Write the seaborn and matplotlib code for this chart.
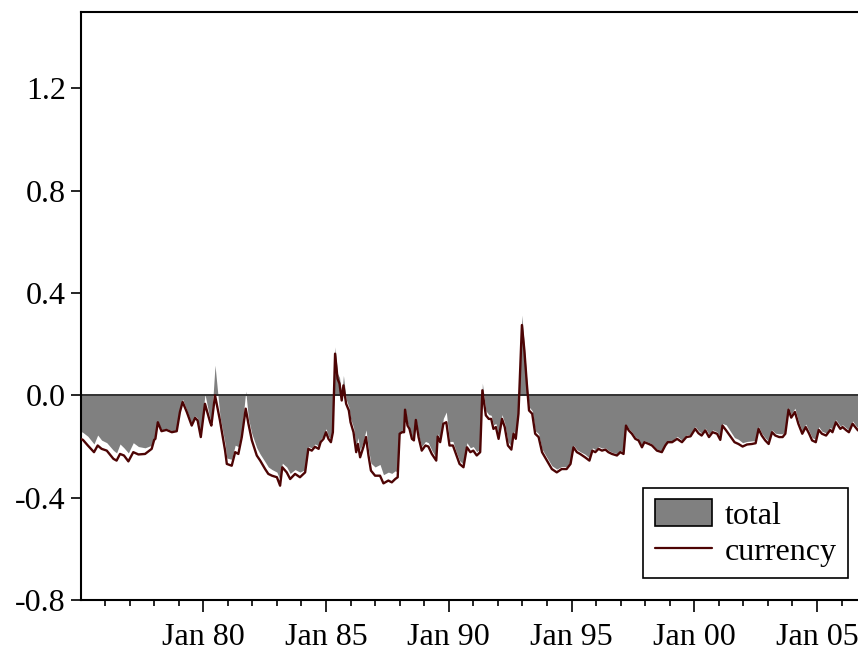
import numpy as np
import pandas as pd
import matplotlib
matplotlib.use("Agg")
import matplotlib.pyplot as plt
from matplotlib.patches import Patch
from matplotlib.lines import Line2D
import seaborn as sns

# ---- data (decimal years) ----
year = [
    1975.0, 1975.1, 1975.3, 1975.55, 1975.7, 1975.86, 1976.07, 1976.34, 1976.47, 1976.61,
    1976.77, 1976.95, 1977.15, 1977.36, 1977.63, 1977.9, 1978.0, 1978.05, 1978.15, 1978.3,
    1978.5, 1978.72, 1978.92, 1979.05, 1979.16, 1979.33, 1979.53, 1979.67, 1979.77, 1979.9,
    1980.07, 1980.28, 1980.33, 1980.48, 1980.68, 1980.89, 1980.96, 1981.16, 1981.3, 1981.43,
    1981.57, 1981.73, 1981.84, 1981.98, 1982.18, 1982.32, 1982.52, 1982.65, 1982.8, 1983.0,
    1983.13, 1983.22, 1983.4, 1983.54, 1983.74, 1983.94, 1984.15, 1984.28, 1984.42, 1984.55,
    1984.7, 1984.78, 1984.9, 1985.0, 1985.1, 1985.2, 1985.28, 1985.37, 1985.47, 1985.55,
    1985.64, 1985.71, 1985.82, 1985.93, 1986.0, 1986.12, 1986.23, 1986.3, 1986.39, 1986.52,
    1986.63, 1986.73, 1986.83, 1987.0, 1987.2, 1987.34, 1987.54, 1987.68, 1987.82, 1987.92,
    1988.0, 1988.1, 1988.18, 1988.22, 1988.32, 1988.4, 1988.5, 1988.58, 1988.66, 1988.77,
    1988.9, 1989.05, 1989.17, 1989.31, 1989.49, 1989.55, 1989.65, 1989.78, 1989.9, 1990.03,
    1990.17, 1990.3, 1990.44, 1990.6, 1990.74, 1990.88, 1991.0, 1991.14, 1991.28, 1991.37,
    1991.51, 1991.63, 1991.73, 1991.82, 1991.92, 1992.03, 1992.17, 1992.28, 1992.41, 1992.55,
    1992.64, 1992.73, 1992.84, 1992.98, 1993.08, 1993.18, 1993.27, 1993.4, 1993.52, 1993.66,
    1993.8, 1994.0, 1994.2, 1994.4, 1994.6, 1994.8, 1994.96, 1995.08, 1995.22, 1995.35,
    1995.55, 1995.73, 1995.85, 1995.97, 1996.1, 1996.24, 1996.38, 1996.5, 1996.65, 1996.85,
    1996.99, 1997.12, 1997.22, 1997.33, 1997.46, 1997.6, 1997.73, 1997.87, 1997.97, 1998.15,
    1998.28, 1998.48, 1998.68, 1998.82, 1998.92, 1999.1, 1999.3, 1999.5, 1999.68, 1999.85,
    2000.04, 2000.17, 2000.3, 2000.45, 2000.6, 2000.75, 2000.93, 2001.06, 2001.15, 2001.3,
    2001.47, 2001.64, 2001.8, 2001.97, 2002.15, 2002.35, 2002.5, 2002.62, 2002.75, 2002.89,
    2003.03, 2003.17, 2003.3, 2003.46, 2003.6, 2003.71, 2003.84, 2003.95, 2004.1, 2004.24,
    2004.4, 2004.54, 2004.68, 2004.8, 2004.95, 2005.07, 2005.2, 2005.37, 2005.54, 2005.63,
    2005.77, 2005.95, 2006.04, 2006.2, 2006.3, 2006.45, 2006.56, 2006.67,
]

currency = [
    -0.170, -0.174, -0.196, -0.222, -0.196, -0.209, -0.216, -0.248, -0.255, -0.229,
    -0.235, -0.258, -0.222, -0.231, -0.229, -0.209, -0.174, -0.170, -0.105, -0.140,
    -0.135, -0.144, -0.140, -0.065, -0.026, -0.065, -0.118, -0.088, -0.098, -0.163,
    -0.033, -0.105, -0.118, 0.000, -0.098, -0.216, -0.268, -0.275, -0.222, -0.229,
    -0.163, -0.052, -0.111, -0.176, -0.235, -0.255, -0.288, -0.307, -0.314, -0.320,
    -0.353, -0.281, -0.301, -0.327, -0.307, -0.320, -0.301, -0.209, -0.216, -0.201,
    -0.209, -0.183, -0.170, -0.144, -0.170, -0.183, -0.144, 0.163, 0.065, 0.046,
    -0.020, 0.039, -0.033, -0.059, -0.105, -0.144, -0.222, -0.190, -0.242, -0.203,
    -0.163, -0.235, -0.294, -0.314, -0.314, -0.344, -0.333, -0.340, -0.327, -0.320,
    -0.150, -0.144, -0.144, -0.056, -0.118, -0.131, -0.170, -0.176, -0.096, -0.163,
    -0.216, -0.196, -0.200, -0.229, -0.255, -0.161, -0.183, -0.111, -0.105, -0.196,
    -0.196, -0.231, -0.268, -0.281, -0.203, -0.222, -0.216, -0.235, -0.222, 0.020,
    -0.078, -0.092, -0.092, -0.131, -0.124, -0.170, -0.092, -0.124, -0.196, -0.212,
    -0.150, -0.170, -0.072, 0.275, 0.176, 0.046, -0.059, -0.072, -0.150, -0.163,
    -0.222, -0.255, -0.288, -0.301, -0.288, -0.288, -0.268, -0.203, -0.222, -0.229,
    -0.242, -0.255, -0.216, -0.222, -0.209, -0.216, -0.212, -0.222, -0.229, -0.235,
    -0.222, -0.229, -0.118, -0.137, -0.150, -0.170, -0.176, -0.203, -0.183, -0.190,
    -0.196, -0.216, -0.222, -0.196, -0.183, -0.183, -0.170, -0.183, -0.163, -0.160,
    -0.131, -0.148, -0.157, -0.137, -0.163, -0.144, -0.150, -0.174, -0.118, -0.137,
    -0.160, -0.183, -0.190, -0.200, -0.192, -0.190, -0.187, -0.131, -0.157, -0.176,
    -0.190, -0.144, -0.157, -0.163, -0.163, -0.150, -0.056, -0.087, -0.065, -0.111,
    -0.150, -0.124, -0.150, -0.176, -0.183, -0.135, -0.150, -0.157, -0.135, -0.144,
    -0.105, -0.131, -0.124, -0.137, -0.144, -0.111, -0.124, -0.137,
]

total = [
    -0.140, -0.145, -0.160, -0.190, -0.155, -0.175, -0.185, -0.215, -0.225, -0.190,
    -0.205, -0.225, -0.185, -0.200, -0.205, -0.195, -0.165, -0.160, -0.100, -0.135,
    -0.130, -0.138, -0.135, -0.060, -0.015, -0.058, -0.112, -0.080, -0.090, -0.150,
    0.005, -0.095, -0.105, 0.118, -0.080, -0.190, -0.245, -0.250, -0.195, -0.200,
    -0.140, 0.017, -0.090, -0.150, -0.205, -0.230, -0.260, -0.280, -0.290, -0.300,
    -0.330, -0.265, -0.280, -0.305, -0.290, -0.300, -0.290, -0.200, -0.205, -0.190,
    -0.198, -0.170, -0.160, -0.130, -0.160, -0.172, -0.135, 0.190, 0.085, 0.070,
    0.000, 0.078, -0.015, -0.045, -0.090, -0.125, -0.200, -0.165, -0.215, -0.180,
    -0.135, -0.210, -0.265, -0.280, -0.270, -0.310, -0.300, -0.305, -0.295, -0.300,
    -0.145, -0.140, -0.140, -0.052, -0.110, -0.125, -0.163, -0.170, -0.090, -0.155,
    -0.200, -0.180, -0.185, -0.215, -0.245, -0.150, -0.170, -0.090, -0.065, -0.180,
    -0.180, -0.220, -0.255, -0.270, -0.185, -0.205, -0.200, -0.220, -0.210, 0.048,
    -0.060, -0.075, -0.078, -0.115, -0.110, -0.155, -0.075, -0.110, -0.180, -0.200,
    -0.140, -0.160, -0.060, 0.314, 0.190, 0.060, -0.045, -0.060, -0.138, -0.150,
    -0.210, -0.243, -0.275, -0.288, -0.278, -0.278, -0.258, -0.195, -0.212, -0.220,
    -0.230, -0.245, -0.205, -0.212, -0.200, -0.206, -0.205, -0.215, -0.222, -0.228,
    -0.215, -0.222, -0.112, -0.130, -0.143, -0.163, -0.170, -0.196, -0.177, -0.184,
    -0.190, -0.210, -0.216, -0.190, -0.178, -0.177, -0.160, -0.175, -0.155, -0.152,
    -0.122, -0.138, -0.148, -0.128, -0.152, -0.135, -0.142, -0.165, -0.110, -0.115,
    -0.140, -0.165, -0.172, -0.185, -0.180, -0.178, -0.177, -0.122, -0.148, -0.166,
    -0.180, -0.135, -0.148, -0.150, -0.150, -0.140, -0.048, -0.075, -0.050, -0.100,
    -0.140, -0.112, -0.140, -0.165, -0.172, -0.122, -0.140, -0.147, -0.125, -0.135,
    -0.095, -0.120, -0.115, -0.128, -0.135, -0.100, -0.115, -0.128,
]

x_major = [1980, 1985, 1990, 1995, 2000, 2005]
x_labels = ["Jan 80", "Jan 85", "Jan 90", "Jan 95", "Jan 00", "Jan 05"]
y_ticks = [-0.8, -0.4, 0.0, 0.4, 0.8, 1.2]
y_labels = ["-0.8", "-0.4", "0.0", "0.4", "0.8", "1.2"]

df = pd.DataFrame({"year": year, "currency": currency, "total": total})

# ---- style ----
sns.set_style("ticks")
plt.rcParams["font.family"] = ["Liberation Serif", "DejaVu Serif"]
plt.rcParams["font.size"] = 23
plt.rcParams["text.color"] = "black"
plt.rcParams["xtick.color"] = "black"
plt.rcParams["ytick.color"] = "black"
plt.rcParams["axes.labelcolor"] = "black"

FILL = "#808080"
LINE = "#4d0404"

fig = plt.figure(figsize=(8.58, 6.52), dpi=100)
ax = fig.add_axes([80.5 / 858, 1 - 600 / 652, (858 - 80.5) / 858, (600 - 11.7) / 652])

ax.fill_between(df["year"], 0, df["total"], color=FILL, linewidth=0, zorder=1)
ax.axhline(0, color="#222222", lw=1.3, zorder=2)
sns.lineplot(data=df, x="year", y="currency", ax=ax, color=LINE, lw=1.7,
             zorder=3, legend=False)

ax.set_xlim(1975.0, 2006.67)
ax.set_ylim(-0.8, 1.5)
ax.set_xlabel("")
ax.set_ylabel("")

ax.set_xticks(x_major)
ax.set_xticklabels(x_labels)
ax.set_xticks(list(range(1976, 2007)), minor=True)
ax.set_yticks(y_ticks)
ax.set_yticklabels(y_labels)

for s in ["left", "bottom", "top"]:
    ax.spines[s].set_linewidth(1.5)
    ax.spines[s].set_color("black")
ax.spines["right"].set_visible(False)

ax.tick_params(axis="x", which="major", length=8.5, width=1.2, pad=8, labelsize=23,
               colors="black")
ax.tick_params(axis="x", which="minor", length=4.5, width=1.2, colors="black")
ax.tick_params(axis="y", which="major", length=7.5, width=1.2, pad=3, labelsize=23,
               colors="black")

handles = [Patch(facecolor=FILL, edgecolor="black", linewidth=1.2, label="total"),
           Line2D([0], [0], color=LINE, lw=1.6, label="currency")]
leg = ax.legend(handles=handles, loc="lower right",
                bbox_to_anchor=(848 / 858, 1 - 578 / 652),
                bbox_transform=fig.transFigure, fancybox=False, framealpha=1,
                edgecolor="black", fontsize=23, handlelength=1.8,
                handleheight=0.9, handletextpad=0.4, labelspacing=0.15,
                borderpad=0.35, borderaxespad=0)
leg.get_frame().set_linewidth(1.2)
for t in leg.get_texts():
    t.set_color("black")

fig.savefig("out.png", dpi=100)
